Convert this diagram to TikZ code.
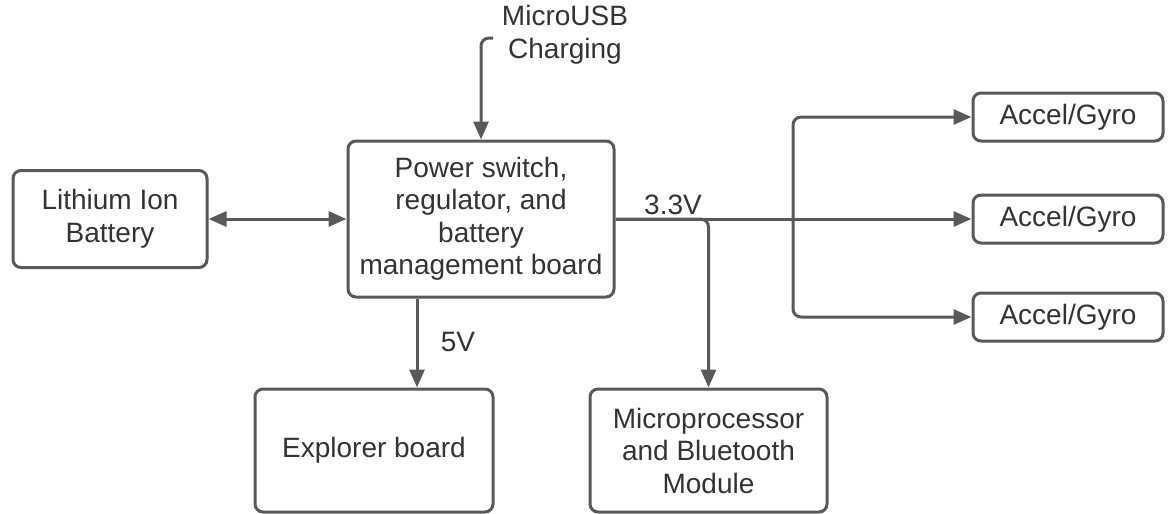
\documentclass[tikz,border=0pt]{standalone}
\usepackage{fontspec}
\setmainfont{Liberation Sans}
\usetikzlibrary{arrows.meta}
\definecolor{ln}{HTML}{595959}
\definecolor{tx}{HTML}{333333}
\begin{document}
\begin{tikzpicture}[x=1pt,y=-1pt,
 box/.style={draw=ln, line width=3pt, rounded corners=8pt, text=tx, align=center, font=\fontsize{28}{32.5}\selectfont, inner sep=0pt},
 tip/.tip={Triangle[length=18pt,width=15pt]},
 conn/.style={draw=ln, line width=3pt, -tip, rounded corners=8pt},
 lbl/.style={text=tx, font=\fontsize{28}{32.5}\selectfont, align=center, inner sep=0pt}]
\useasboundingbox (0,0) rectangle (1168,514);
\node[box, minimum width=194, minimum height=97] (bat) at (110,219) {Lithium Ion\\Battery};
\node[box, minimum width=266, minimum height=156] (pwr) at (481,219) {Power switch,\\regulator, and\\battery\\management board};
\node[box, minimum width=238, minimum height=123] (exp) at (374,450.5) {Explorer board};
\node[box, minimum width=237, minimum height=123] (mcu) at (708.5,450.5) {Microprocessor\\and Bluetooth\\Module};
\node[box, minimum width=190, minimum height=48] (a1) at (1068,117) {Accel/Gyro};
\node[box, minimum width=190, minimum height=48] (a2) at (1068,219) {Accel/Gyro};
\node[box, minimum width=190, minimum height=48] (a3) at (1068,317) {Accel/Gyro};
\node[lbl] (usb) at (565,35) {MicroUSB\\Charging};
\node[lbl] (v33) at (673,205) {3.3V};
\node[lbl] (v5) at (458,342) {5V};
\coordinate (usbs) at (493,38);
\coordinate (br) at (793,219);
\draw[draw=ln, line width=3pt, tip-tip] (bat.east) -- (pwr.west);
\draw[conn] (usbs) -| (pwr.north);
\draw[conn] (pwr.east) -- (a2.west);
\draw[conn] (pwr.east) -| (mcu.north);
\draw[conn] (br) |- (a1.west);
\draw[conn] (br) |- (a3.west);
\draw[conn] ([xshift=-64]pwr.south) -- ([xshift=-64]pwr.south |- exp.north);
\end{tikzpicture}
\end{document}
